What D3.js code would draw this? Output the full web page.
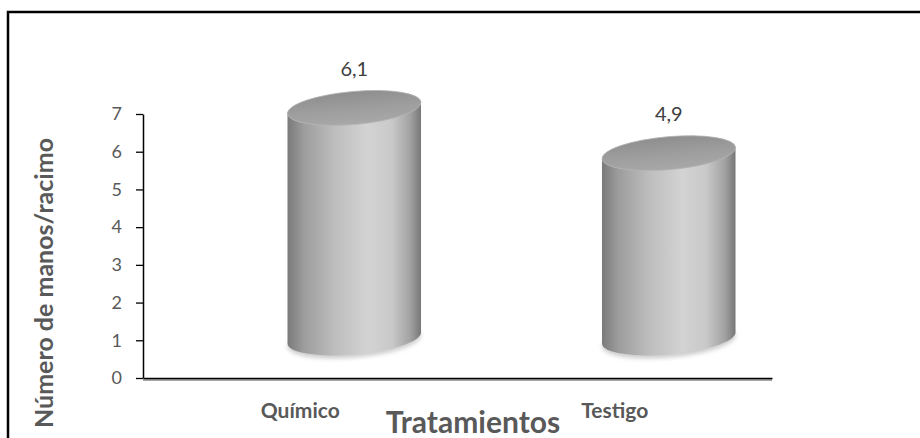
<!DOCTYPE html>
<html>
<head>
<meta charset="utf-8">
<script src="https://d3js.org/d3.v7.min.js"></script>
<style>
  html, body { margin: 0; padding: 0; background: #fff; overflow: hidden; }
  text { font-family: Lato, "Open Sans", sans-serif; }
</style>
</head>
<body>
<div id="chart"></div>
<script>
const categories = ['Químico', 'Testigo'];
const values = [6.1, 4.9];
const valueLabels = ['6,1', '4,9'];
const yTicks = [0, 1, 2, 3, 4, 5, 6, 7];
const yTitle = 'Número de manos/racimo';
const xTitle = 'Tratamientos';

const W = 920, H = 438;
const plot = { left: 143, right: 772, top: 114, bottom: 378 };
// excel 3d projection pushes the cylinders back: right and up
const depth = { dx: 54, dy: -40 };
const cyl = { rx: 67, ry: 16.5, tilt: -5 };

const svg = d3.select('#chart').append('svg')
  .attr('width', W)
  .attr('height', H);

const defs = svg.append('defs');

const bodyGrad = defs.append('linearGradient').attr('id', 'bodyGrad');
[[0, '#7a7a7a'], [0.12, '#9c9c9c'], [0.35, '#bdbdbd'], [0.6, '#d3d3d3'],
 [0.78, '#c9c9c9'], [0.92, '#a2a2a2'], [1, '#777']].forEach(s => {
  bodyGrad.append('stop').attr('offset', s[0]).attr('stop-color', s[1]);
});

const topGrad = defs.append('linearGradient').attr('id', 'topGrad')
  .attr('x1', 0).attr('y1', 0).attr('x2', 0).attr('y2', 1);
[[0, '#8e8e8e'], [0.5, '#9d9d9d'], [1, '#a8a8a8']].forEach(s => {
  topGrad.append('stop').attr('offset', s[0]).attr('stop-color', s[1]);
});

defs.append('filter').attr('id', 'blur')
  .append('feGaussianBlur').attr('stdDeviation', 2);

// frame
svg.append('rect')
  .attr('x', 8).attr('y', 12)
  .attr('width', 1000).attr('height', 1000)
  .attr('fill', 'none')
  .attr('stroke', '#000')
  .attr('stroke-width', 2.5);

const x = d3.scaleBand()
  .domain(categories)
  .range([plot.left, plot.right]);

const y = d3.scaleLinear()
  .domain([0, 7])
  .range([plot.bottom, plot.top]);

// y axis
const yAxis = svg.append('g')
  .attr('transform', `translate(${plot.left}, 0)`)
  .call(d3.axisLeft(y)
    .tickValues(yTicks)
    .tickFormat(d3.format('d'))
    .tickSize(7)
    .tickSizeOuter(0)
    .tickPadding(14));
yAxis.select('.domain').attr('stroke', '#000').attr('stroke-width', 1.5);
yAxis.selectAll('.tick line').attr('stroke', '#000').attr('stroke-width', 1.3);
yAxis.selectAll('text')
  .style('font-family', 'Lato, sans-serif')
  .style('font-size', '18px')
  .attr('fill', '#595959');

// x axis with its little shadow
svg.append('line')
  .attr('x1', plot.left).attr('x2', plot.right)
  .attr('y1', plot.bottom + 2).attr('y2', plot.bottom + 2)
  .attr('stroke', '#a6a6a6')
  .attr('stroke-width', 2);

const xAxis = svg.append('g')
  .attr('transform', `translate(0, ${plot.bottom})`)
  .call(d3.axisBottom(x).tickSize(0).tickSizeOuter(0));
xAxis.select('.domain').attr('stroke', '#000').attr('stroke-width', 1.5);
xAxis.selectAll('text')
  .attr('y', 40)
  .attr('dy', 0)
  .style('font-family', 'Lato, sans-serif')
  .style('font-size', '21px')
  .style('font-weight', 'bold')
  .attr('fill', '#595959');

const rad = cyl.tilt * Math.PI / 180;
const t0 = Math.atan2(-cyl.ry * Math.sin(rad), cyl.rx * Math.cos(rad));
const ePoint = (cx, cy, t) => [
  cx + cyl.rx * Math.cos(t) * Math.cos(rad) - cyl.ry * Math.sin(t) * Math.sin(rad),
  cy + cyl.rx * Math.cos(t) * Math.sin(rad) + cyl.ry * Math.sin(t) * Math.cos(rad)
];

const bars = categories.map((c, i) => {
  const cx = x(c) + x.bandwidth() / 2 + depth.dx;
  return {
    cx: cx,
    top: y(values[i]) + depth.dy,
    bot: y(0) + depth.dy,
    label: valueLabels[i]
  };
});

const arc = (p) => `A ${cyl.rx} ${cyl.ry} ${cyl.tilt} 0 0 ${p[0]} ${p[1]}`;

const g = svg.append('g');

// soft shadow under each cylinder
g.selectAll('.shadow')
  .data(bars)
  .join('ellipse')
  .attr('cx', d => d.cx)
  .attr('cy', d => d.bot + 3)
  .attr('rx', cyl.rx)
  .attr('ry', cyl.ry)
  .attr('transform', d => `rotate(${cyl.tilt} ${d.cx} ${d.bot + 3})`)
  .attr('fill', '#9a9a9a')
  .attr('opacity', 0.5)
  .attr('filter', 'url(#blur)');

g.selectAll('.body')
  .data(bars)
  .join('path')
  .attr('d', d => {
    const lt = ePoint(d.cx, d.top, t0 + Math.PI);
    const rt = ePoint(d.cx, d.top, t0);
    const lb = ePoint(d.cx, d.bot, t0 + Math.PI);
    const rb = ePoint(d.cx, d.bot, t0);
    return `M ${lt[0]} ${lt[1]} L ${lb[0]} ${lb[1]} ${arc(rb)} L ${rt[0]} ${rt[1]} ${arc(lt)} Z`;
  })
  .attr('fill', 'url(#bodyGrad)');

g.selectAll('.lid')
  .data(bars)
  .join('ellipse')
  .attr('cx', d => d.cx)
  .attr('cy', d => d.top)
  .attr('rx', cyl.rx)
  .attr('ry', cyl.ry)
  .attr('transform', d => `rotate(${cyl.tilt} ${d.cx} ${d.top})`)
  .attr('fill', 'url(#topGrad)')
  .attr('stroke', '#b5b5b5')
  .attr('stroke-width', 0.8);

g.selectAll('.val')
  .data(bars)
  .join('text')
  .attr('x', d => d.cx)
  .attr('y', d => d.top - 32)
  .attr('text-anchor', 'middle')
  .style('font-size', '20px')
  .attr('fill', '#404040')
  .text(d => d.label);

// axis titles
svg.append('text')
  .attr('transform', 'translate(53, 283) rotate(-90)')
  .attr('text-anchor', 'middle')
  .attr('textLength', 290)
  .attr('lengthAdjust', 'spacingAndGlyphs')
  .style('font-size', '24px')
  .style('font-weight', 'bold')
  .attr('fill', '#595959')
  .text(yTitle);

svg.append('text')
  .attr('x', 473)
  .attr('y', 433)
  .attr('text-anchor', 'middle')
  .style('font-size', '30px')
  .style('font-weight', 'bold')
  .attr('fill', '#595959')
  .text(xTitle);
</script>
</body>
</html>
